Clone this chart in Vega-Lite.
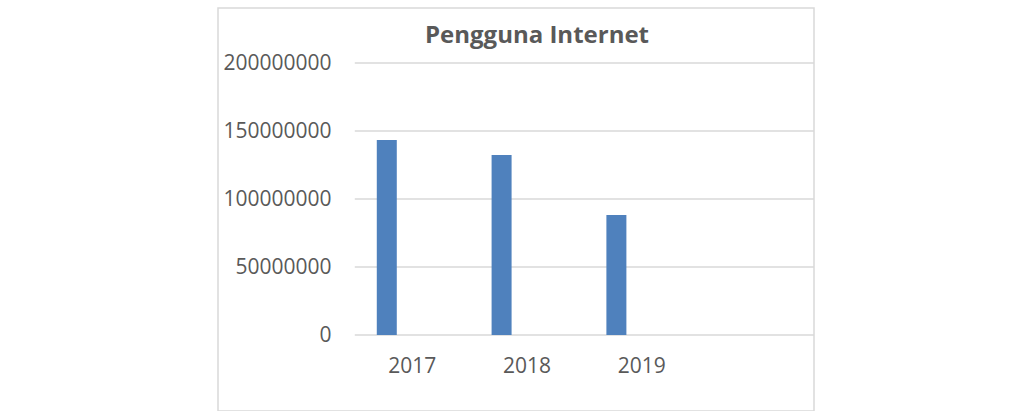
{
  "$schema": "https://vega.github.io/schema/vega-lite/v6.json",
  "width": 596,
  "height": 403,
  "autosize": {"type": "none"},
  "padding": {"left": 218, "top": 8, "right": 201, "bottom": 0},
  "background": "white",
  "config": {
    "view": {"stroke": "#d9d9d9", "strokeWidth": 1.5},
    "font": "Open Sans"
  },
  "title": {
    "text": "Pengguna Internet",
    "anchor": "middle",
    "frame": "group",
    "offset": -40,
    "dx": 21,
    "font": "Open Sans",
    "fontSize": 24,
    "fontWeight": "bold",
    "color": "#595959"
  },
  "datasets": {
    "users": [
      {"tahun": "2017", "seri": "Pengguna Internet", "pengguna": 143400000},
      {"tahun": "2018", "seri": "Pengguna Internet", "pengguna": 132400000},
      {"tahun": "2019", "seri": "Pengguna Internet", "pengguna": 88200000}
    ],
    "ticks": [
      {"v": 0}, {"v": 50000000}, {"v": 100000000}, {"v": 150000000}, {"v": 200000000}
    ]
  },
  "layer": [
    {
      "data": {"name": "ticks"},
      "mark": {"type": "rule", "color": "#d9d9d9", "strokeWidth": 1.5},
      "encoding": {
        "y": {"field": "v", "type": "quantitative"},
        "x": {"datum": "2017", "bandPosition": 0},
        "x2": {"datum": " ", "bandPosition": 1}
      }
    },
    {
      "data": {"name": "users"},
      "mark": {"type": "bar", "color": "#4f81bd"},
      "encoding": {
        "x": {"field": "tahun", "type": "nominal"},
        "xOffset": {
          "field": "seri",
          "type": "nominal",
          "scale": {"domain": ["Pengguna Internet", "b", "c", "d"], "paddingInner": 0, "paddingOuter": 0.87, "align": 0.632}
        },
        "y": {"field": "pengguna", "type": "quantitative"}
      }
    }
  ],
  "encoding": {
    "x": {
      "type": "nominal",
      "scale": {"domain": ["2017", "2018", "2019", " "], "paddingInner": 0, "paddingOuter": 0.5958, "align": 1},
      "axis": {
        "title": null, "domain": false, "ticks": false, "tickSize": 0,
        "labelAngle": 0, "offset": -76, "labelPadding": 20,
        "labelFont": "Open Sans", "labelFontSize": 21, "labelColor": "#595959"
      }
    },
    "y": {
      "type": "quantitative",
      "scale": {"domain": [-55882353, 240441176], "nice": false, "zero": false},
      "axis": {
        "title": null, "domain": false, "ticks": false, "tickSize": 0, "grid": false,
        "values": [0, 50000000, 100000000, 150000000, 200000000],
        "format": "d", "offset": -137, "labelPadding": 24,
        "labelFont": "Open Sans", "labelFontSize": 21, "labelColor": "#595959"
      }
    }
  }
}
